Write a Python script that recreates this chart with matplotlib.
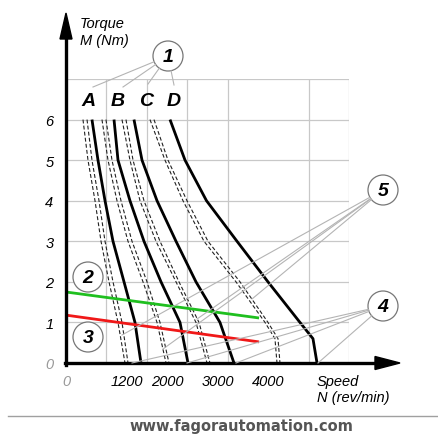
import matplotlib
matplotlib.use('Agg')
import matplotlib.pyplot as plt
from matplotlib.patches import Circle, Polygon
from matplotlib.transforms import Affine2D
import numpy as np

plt.rcParams['font.family'] = ['Liberation Sans', 'DejaVu Sans']

W, H = 438, 435

# torque levels (Nm) at which the curves were read
torque = [6, 5, 4, 3, 2, 1, 0]
torque_d = [6, 5, 4, 3, 2, 1, 0.6, 0]

# speed (rev/min) of each curve at those torque levels
a_solid = [514, 633, 772, 930, 1148, 1365, 1484]
a_dash1 = [336, 435, 574, 693, 851, 1029, 1167]
a_dash2 = [416, 514, 653, 772, 930, 1108, 1227]
b_solid = [950, 1029, 1266, 1543, 1880, 2256, 2414]
b_dash1 = [712, 831, 1009, 1227, 1524, 1801, 1979]
b_dash2 = [791, 910, 1088, 1306, 1603, 1860, 2038]
c_solid = [1345, 1504, 1801, 2177, 2572, 3047, 3324]
c_dash1 = [1108, 1266, 1464, 1781, 2177, 2572, 2790]
c_dash2 = [1187, 1326, 1543, 1860, 2236, 2632, 2849]
d_solid = [2058, 2355, 2780, 3384, 3997, 4630, 4887, 4967]
d_dash1 = [1662, 1959, 2315, 2731, 3364, 3938, 4135, 4175]
d_dash2 = [1741, 2018, 2394, 2810, 3443, 3997, 4195, 4234]

# straight load lines 2 (green) and 3 (red)
line_speed = [0, 3820]
green_torque = [1.75, 1.11]
red_torque = [1.18, 0.52]

x_ticks = [0, 1200, 2000, 3000, 4000]
x_labels = ['0', '1200', '2000', '3000', '4000']
y_ticks = [0, 1, 2, 3, 4, 5, 6]
y_labels = ['0', '1', '2', '3', '4', '5', '6']

fig = plt.figure(figsize=(W / 100, H / 100), dpi=100)
ax = fig.add_axes([66 / W, (H - 364) / H, (349 - 66) / W, (364 - 80) / H])
px = Affine2D().scale(1 / W, -1 / H).translate(0, 1) + fig.transFigure

ax.set_xlim(0, 5600)
ax.set_ylim(0, 7)
ax.set_xticks(x_ticks)
ax.set_xticklabels(x_labels, fontstyle='italic', fontsize=10.5)
ax.set_xticks(np.arange(0, 5601, 800), minor=True)
ax.set_yticks(y_ticks)
ax.set_yticklabels(y_labels, fontstyle='italic', fontsize=10.5)
ax.set_yticks(range(0, 8), minor=True)
ax.tick_params(which='both', length=0)
ax.tick_params(axis='x', pad=8)
ax.tick_params(axis='y', pad=9)
ax.xaxis.get_ticklabels()[0].set_color('#999999')
ax.yaxis.get_ticklabels()[0].set_color('#999999')
ax.xaxis.grid(True, which='minor', color='#c8c8c8', lw=0.9)
ax.yaxis.grid(True, which='both', color='#c8c8c8', lw=0.9)
ax.set_axisbelow(True)
for s in ax.spines.values():
    s.set_visible(False)

# motor curves
for sol, d1, d2, tq in [(a_solid, a_dash1, a_dash2, torque),
                        (b_solid, b_dash1, b_dash2, torque),
                        (c_solid, c_dash1, c_dash2, torque),
                        (d_solid, d_dash1, d_dash2, torque_d)]:
    ax.plot(d1, tq, color='#222222', lw=0.8, dashes=(3.5, 2))
    ax.plot(d2, tq, color='#222222', lw=0.8, dashes=(3.5, 2))
    ax.plot(sol, tq, color='black', lw=2.0, solid_capstyle='butt',
            solid_joinstyle='round')

ax.plot(line_speed, green_torque, color='#1fbf1f', lw=2.0, solid_capstyle='butt')
ax.plot(line_speed, red_torque, color='#f01818', lw=2.0, solid_capstyle='butt')

# axes with arrows
fig.add_artist(plt.Line2D([66, 66], [366, 38], transform=px, color='black', lw=2.4))
fig.add_artist(plt.Line2D([64.5, 377], [364, 364], transform=px, color='black', lw=2.4))
fig.add_artist(Polygon([[66, 14], [60, 40], [72, 40]], closed=True, transform=px,
                       color='black'))
fig.add_artist(Polygon([[400, 364], [375, 357.5], [375, 370.5]], closed=True,
                       transform=px, color='black'))

# axis titles
ital = dict(fontstyle='italic', fontsize=10.5, transform=px, va='center', ha='left')
fig.text(80, 24, 'Torque', **ital)
fig.text(80, 41, 'M (Nm)', **ital)
fig.text(317, 382, 'Speed', **ital)
fig.text(317, 398, 'N (rev/min)', **ital)

# curve letters
for lab, x in zip(['A', 'B', 'C', 'D'], [88, 118, 146, 174]):
    fig.text(x, 102, lab, transform=px, ha='center', va='center', fontsize=14,
             fontweight='bold', fontstyle='italic')


def callout(num, cx, cy, targets, r=15):
    for tx, ty in targets:
        v = np.array([tx - cx, ty - cy], float)
        v /= np.hypot(*v)
        fig.add_artist(plt.Line2D([cx + r * v[0], tx], [cy + r * v[1], ty],
                                  transform=px, color='#b4b4b4', lw=0.8))
    fig.add_artist(Circle((cx, cy), r, transform=px, facecolor='white',
                          edgecolor='#777777', lw=0.9))
    fig.text(cx, cy + 1, num, transform=px, ha='center', va='center', fontsize=14,
             fontweight='bold', fontstyle='italic')


callout('1', 168, 57, [(93, 88), (123, 88), (148, 85), (174, 86)])
callout('2', 88, 278, [])
callout('3', 88, 338, [])
callout('5', 383, 191, [(122, 336), (163, 350), (197, 320), (252, 300)])
callout('4', 383, 307, [(132, 364), (187, 364), (236, 364), (318, 364)])

# footer
fig.add_artist(plt.Line2D([8, 438], [417, 417], transform=px, color='#a0a0a0', lw=1))
fig.text(241, 427, 'www.fagorautomation.com', transform=px, ha='center', va='center',
         fontsize=10.5, fontweight='bold', color='#555555', family='DejaVu Sans')

fig.savefig('out.png', dpi=100)
